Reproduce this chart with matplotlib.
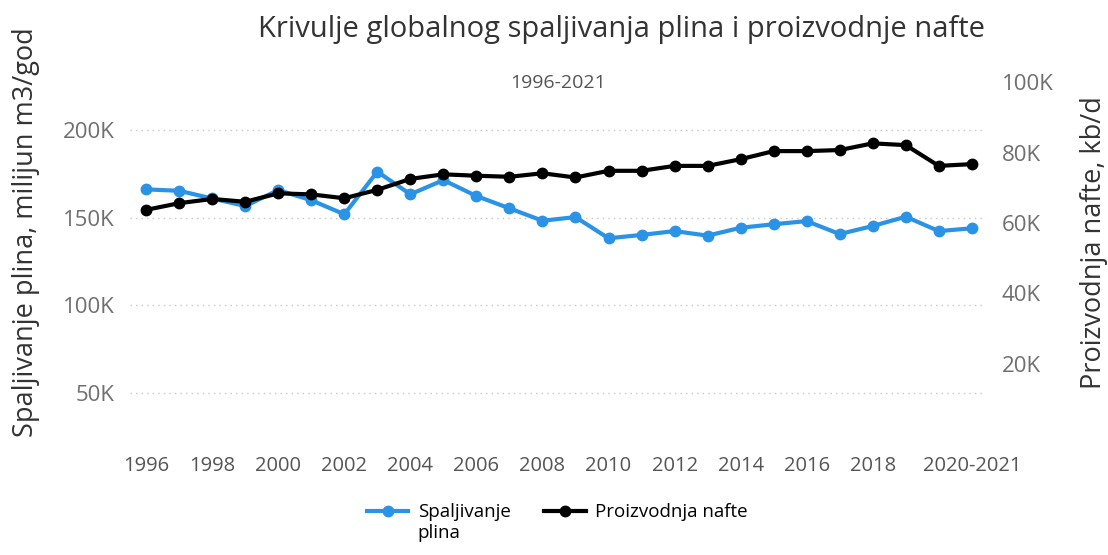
import matplotlib.pyplot as plt
from matplotlib.ticker import FuncFormatter

plt.rcParams['font.family'] = ['Open Sans', 'DejaVu Sans']

years = list(range(1996, 2022))
# spaljivanje plina, milijun m3/god
plin = [166.2, 165.4, 161.0, 156.7, 165.8, 160.0, 152.0, 176.3, 163.4, 171.5,
        162.4, 155.4, 148.3, 150.4, 138.3, 140.2, 142.4, 139.8, 144.3, 146.3,
        148.1, 140.7, 145.3, 150.6, 142.4, 144.0]
plin = [v * 1000 for v in plin]
# proizvodnja nafte, kb/d
nafta = [63.7, 65.6, 66.8, 66.0, 68.4, 68.1, 67.0, 69.4, 72.5, 73.8,
         73.4, 73.1, 74.1, 72.9, 74.8, 74.8, 76.2, 76.2, 78.1, 80.4,
         80.4, 80.7, 82.6, 82.1, 76.2, 76.7]
nafta = [v * 1000 for v in nafta]

tick_years = [1996, 1998, 2000, 2002, 2004, 2006, 2008, 2010, 2012, 2014, 2016, 2018, 2021]
tick_labels = ['1996', '1998', '2000', '2002', '2004', '2006', '2008', '2010',
               '2012', '2014', '2016', '2018', '2020-2021']

blue = '#2b93e6'
grey = '#6f6f6f'

fig = plt.figure(figsize=(11.08, 5.55), dpi=100)
ax = fig.add_axes([0.117, 0.218, 0.772, 0.634])
ax2 = ax.twinx()

l1, = ax.plot(years, plin, color=blue, lw=3, marker='o', ms=7.5, label='Spaljivanje')
l2, = ax2.plot(years, nafta, color='black', lw=3, marker='o', ms=7.5, label='Proizvodnja nafte')

ax.set_xlim(1995.5, 2021.4)
ax.set_ylim(26600, 227400)
ax2.set_ylim(0, 100000)
ax.set_yticks([50000, 100000, 150000, 200000])
ax2.set_yticks([20000, 40000, 60000, 80000, 100000])
kfmt = FuncFormatter(lambda v, p: '%dK' % round(v / 1000))
ax.yaxis.set_major_formatter(kfmt)
ax2.yaxis.set_major_formatter(kfmt)
ax.set_xticks(tick_years)
ax.set_xticklabels(tick_labels)

ax.grid(axis='y', color='#c8c8c8', linestyle=(0, (1, 3)), lw=1)
for a in (ax, ax2):
    for s in a.spines.values():
        s.set_visible(False)
    a.tick_params(length=0, colors=grey, labelsize=16)
ax.tick_params(axis='x', pad=16, labelsize=14.5, colors='#555555')
ax.tick_params(axis='y', pad=11)
ax2.tick_params(axis='y', pad=12)

ax.set_ylabel('Spaljivanje plina, milijun m3/god', fontsize=19.5, color='#333333')
ax2.set_ylabel('Proizvodnja nafte, kb/d', fontsize=19.5, color='#333333')
ax.yaxis.set_label_coords(-0.105, 0.574)
ax2.yaxis.set_label_coords(1.111, 0.545)

fig.text(0.561, 0.946, 'Krivulje globalnog spaljivanja plina i proizvodnje nafte',
         ha='center', va='center', fontsize=21, color='#333333')
fig.text(0.504, 0.850, '1996-2021', ha='center', va='center', fontsize=14, color='#555555')

leg = fig.legend(handles=[l1, l2], loc='center', bbox_to_anchor=(0.503, 0.077), ncol=2,
                 frameon=False, fontsize=13.5, handlelength=2.2, handletextpad=0.5,
                 columnspacing=1.8, borderpad=0)

# druga linija oznake plina ispod prve
fig.canvas.draw()
bb = leg.get_texts()[0].get_window_extent().transformed(fig.transFigure.inverted())
fig.text(bb.x0, bb.y0 - 0.005, 'plina', ha='left', va='top', fontsize=13.5, color='#000000')

fig.savefig('out.png', dpi=100)
